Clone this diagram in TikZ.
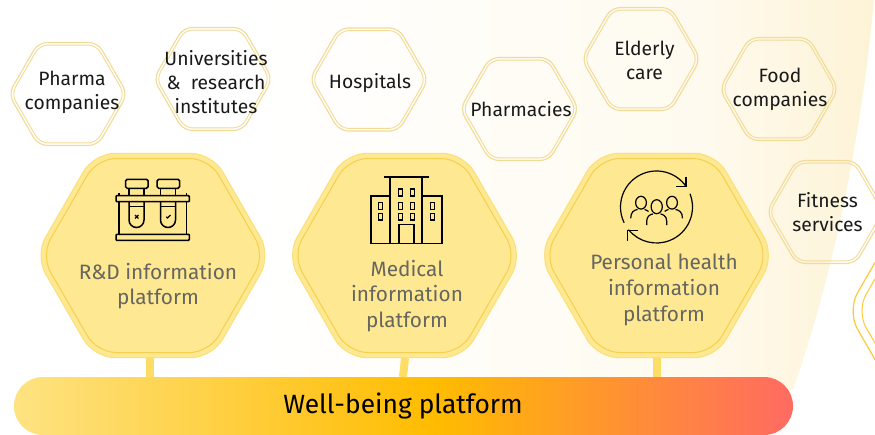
\documentclass[tikz,border=0pt]{standalone}
\usepackage{fontspec}
\setmainfont{Fira Sans}
\usetikzlibrary{shapes.geometric}
\definecolor{barA}{HTML}{FEE382}
\definecolor{barB}{HTML}{FFBC00}
\definecolor{barC}{HTML}{FF6A62}
\definecolor{bigfill}{HTML}{FEE891}
\definecolor{bigout}{HTML}{FCDF76}
\definecolor{bigin}{HTML}{F5CF50}
\definecolor{smallline}{HTML}{F2DB96}
\definecolor{stemc}{HTML}{FEDD66}
\definecolor{cream}{HTML}{FDF3D6}
\definecolor{inkc}{HTML}{1A1A1A}
\definecolor{greyc}{HTML}{666660}
\definecolor{sideline}{HTML}{FCC937}
\pgfdeclarehorizontalshading{barshade}{100bp}{color(0bp)=(barA);color(25bp)=(barA);color(52bp)=(barB);color(75bp)=(barC);color(100bp)=(barC)}
\pgfdeclarehorizontalshading{bgshade}{100bp}{color(0bp)=(white);color(40bp)=(white);color(65bp)=(cream!40!white);color(75bp)=(cream);color(100bp)=(cream)}
\tikzset{
  hexbase/.style={regular polygon,regular polygon sides=6,inner sep=0pt,outer sep=0pt},
  smallouter/.style={hexbase,minimum size=119pt,rounded corners=9pt,draw=smallline,line width=1.1pt},
  smallinner/.style={hexbase,minimum size=113pt,rounded corners=8pt,draw=smallline,line width=0.9pt},
  bigouter/.style={hexbase,minimum size=236pt,rounded corners=21pt,draw=bigout,fill=bigfill,line width=1pt},
  biginner/.style={hexbase,minimum size=224pt,rounded corners=19pt,draw=bigin,line width=1pt},
  sideouter/.style={hexbase,minimum size=236pt,rounded corners=21pt,draw=sideline,line width=1.2pt},
  sideinner/.style={hexbase,minimum size=217pt,rounded corners=19pt,draw=sideline,line width=1pt},
  lab/.style={align=center,text=inkc,inner sep=0pt,font=\fontsize{19.3}{24}\selectfont},
  biglab/.style={align=center,text=greyc,inner sep=0pt,font=\fontsize{20.8}{25.8}\selectfont},
  stemline/.style={draw=stemc,line width=8pt},
  ico/.style={draw=black,line width=1.5pt},
  icob/.style={draw=black,line width=1.8pt},
  icothin/.style={draw=black,line width=1.2pt},
}
\begin{document}
\begin{tikzpicture}[x=1pt,y=-1pt]
\useasboundingbox (0,0) rectangle (875,434);
% background sweep
\shade[shading=bgshade] (0,0) -- (874,0) .. controls (862,130) and (835,270) .. (793,390) -- (0,390) -- cycle;
% small hexagons
\foreach \n/\x/\y in {pharma/68/94,univ/213/79,hosp/369/79.5,pcy/519.5/109,eld/641/59,food/779/89,fit/826/212}{
  \node[smallouter] (\n o) at (\x,\y) {};
  \node[smallinner] (\n i) at (\x,\y) {};
}
% big hexagons
\foreach \n/\x in {rd/153,med/404.5,per/656.5}{
  \node[bigouter] (\n o) at (\x,255.5) {};
  \node[biginner] (\n i) at (\x,255.5) {};
}
% partial hexagon at right edge
\begin{scope}
\clip (0,0) rectangle (875,434);
\node[sideouter] (sideo) at (965,311) {};
\node[sideinner] (sidei) at (965,311) {};
\end{scope}
% bar
\node[minimum width=779pt,minimum height=58pt,inner sep=0pt,outer sep=0pt,rounded corners=28.9pt,shading=barshade] (bar) at (403.5,406) {};
% stems
\coordinate (rdtop) at (150,358); \coordinate (rdfoot) at (150,377);
\coordinate (medtop) at (405,358); \coordinate (medfoot) at (403,377);
\coordinate (pertop) at (656.7,358); \coordinate (perfoot) at (656.7,377);
\draw[stemline] (rdtop) -- (rdfoot);
\draw[stemline] (medtop) -- (medfoot);
\draw[stemline] (pertop) -- (perfoot);
% labels
\node[lab] (tpharma) at (72,92) {Pharma\\companies};
\node[lab] (tuniv) at (216,82) {Universities\\\&\ \ research\\institutes};
\node[lab] (thosp) at (370,83) {Hospitals};
\node[lab] (tpcy) at (521,109) {Pharmacies};
\node[lab] (teld) at (644.5,60) {Elderly\\care};
\node[lab] (tfood) at (780,89) {Food\\companies};
\node[lab] (tfit) at (827.5,212) {Fitness\\services};
\node[biglab] (trd) at (158,286) {R\&D information\\platform};
\node[biglab] (tmed) at (407,296) {Medical\\information\\platform};
\node[biglab] (tper) at (664,290) {Personal health\\information\\platform};
\node[text=black,inner sep=0pt,font=\fontsize{26.4}{32}\selectfont] (tbar) at (403,406) {Well-being platform};
% test tubes icon
\foreach \dx in {0,31.5}{
  \draw[ico,rounded corners=1.5pt] (125.7+\dx,179.3) rectangle (148+\dx,188.3);
  \draw[ico] (129+\dx,188.3) -- (129+\dx,195.7) (144+\dx,188.3) -- (144+\dx,195.7);
  \draw[ico] (129+\dx,201.7) -- (129+\dx,220) arc[start angle=180,end angle=0,radius=7.5] -- (144+\dx,201.7);
  \draw[icothin] (129+\dx,206.7) -- (144+\dx,206.7);
}
\draw[ico,rounded corners=.8pt] (116,195.7) rectangle (189.3,201.7);
\draw[ico,rounded corners=.8pt] (116,234.3) rectangle (189.3,240.3);
\draw[ico] (119,193) -- (119,195.7) (119,201.7) -- (119,234.3) (186.7,193) -- (186.7,195.7) (186.7,201.7) -- (186.7,234.3);
\draw[icothin] (135,215) -- (138.4,218.4) (138.4,215) -- (135,218.4);
\draw[icothin] (166.3,216.8) -- (167.6,218) -- (170.4,215);
% building icon
\draw[icob] (390,195.7) -- (370.7,195.7) -- (370.7,243.5) -- (442,243.5) -- (442,195.7) -- (422.3,195.7);
\draw[icob] (390,243.5) -- (390,177.3) (422.3,177.3) -- (422.3,243.5) (384,177.3) -- (429,177.3);
\draw[icob] (399.3,243.5) -- (399.3,224.5) -- (414,224.5) -- (414,243.5);
\foreach \wx/\wy in {400.3/192.4,412.5/192.4,400.3/206,412.5/206,400.3/216.7,412.5/216.7,380.3/206,380.3/216.7,432.7/206,432.7/216.7}{
  \draw[ico] (\wx-2,\wy-3.4) rectangle (\wx+2,\wy+3.4);
}
% people icon
\draw[icothin] (656.5,207) ++(154:36) arc[start angle=154,end angle=325.5,radius=36];
\draw[icothin] (656.5,207) ++(-21.7:36) arc[start angle=-21.7,end angle=141,radius=36];
\draw[icothin] (686,176.7) -- (686,186.7) -- (675.7,186.7);
\draw[icothin] (638.3,230.7) -- (627.3,230.7) -- (627.3,240.7);
\draw[icothin] (656.7,206.7) ellipse [x radius=5.6,y radius=7];
\draw[icothin] (641,202.7) ellipse [x radius=5.4,y radius=6.4];
\draw[icothin] (672,202.7) ellipse [x radius=5.4,y radius=6.4];
\draw[icothin] (646.7,225) -- (646.7,221) .. controls (646.7,216) and (651,214) .. (653,214);
\draw[icothin] (666.7,225) -- (666.7,221) .. controls (666.7,216) and (662.4,214) .. (660.4,214);
\draw[icothin] (630.7,218.3) .. controls (630.7,212) and (634,210) .. (637.5,209.5);
\draw[icothin] (644.5,209.5) .. controls (646,210) and (647.5,210.5) .. (648.5,211.5);
\draw[icothin] (682.5,218.3) .. controls (682.5,212) and (679,210) .. (675.5,209.5);
\draw[icothin] (668.5,209.5) .. controls (667,210) and (665.5,210.5) .. (664.7,211.5);
\end{tikzpicture}
\end{document}
